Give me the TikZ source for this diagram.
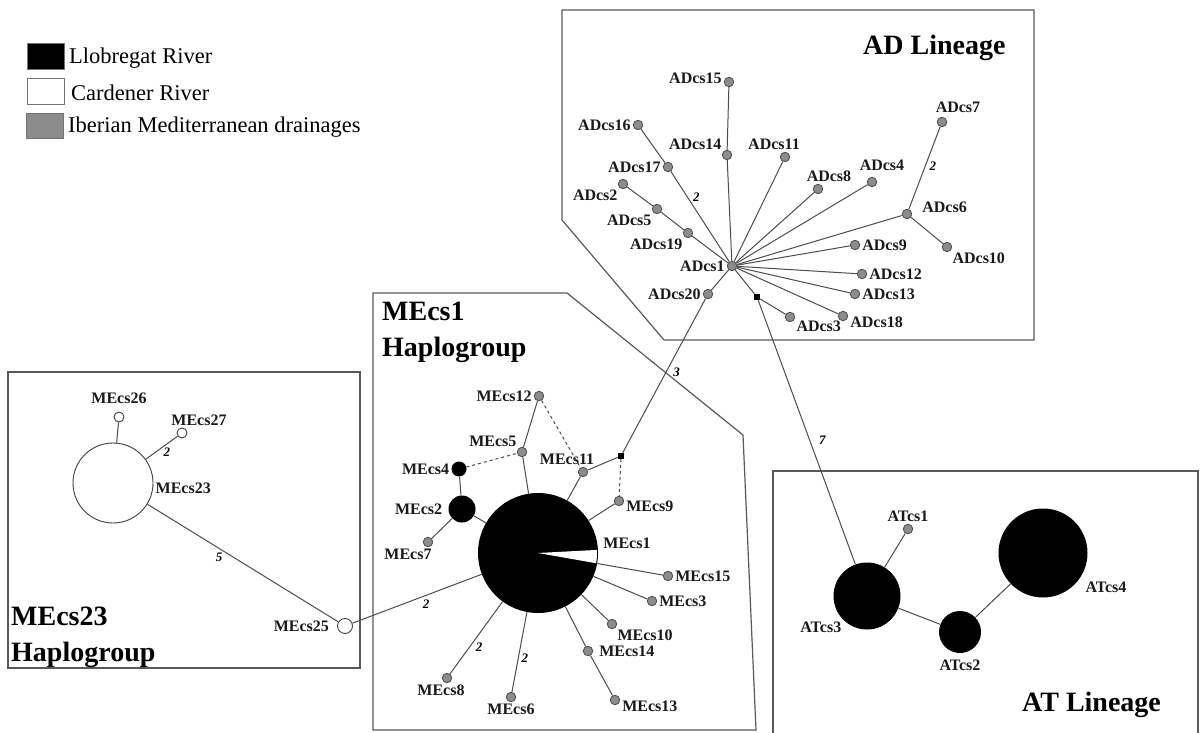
\documentclass[tikz,border=0pt]{standalone}
\usepackage{fontspec}
\setmainfont{Liberation Serif}
\tikzset{
    hapgray/.style={circle, draw=black!70, fill=black!45, line width=0.8pt, inner sep=0pt, minimum size=9.5pt},
    hapblack/.style={circle, fill=black, inner sep=0pt},
    hapwhite/.style={circle, draw=black!75, fill=white, line width=0.9pt, inner sep=0pt},
    junction/.style={rectangle, fill=black, inner sep=0pt, minimum size=6pt},
    hlabel/.style={font=\bfseries\fontsize{16}{16}\selectfont, text=black!90, inner sep=1pt},
    mutations/.style={font=\bfseries\itshape\fontsize{13}{13}\selectfont, inner sep=1pt},
    grouptitle/.style={font=\bfseries\fontsize{28}{36}\selectfont, align=left, inner sep=0pt},
    legbox/.style={draw=black!55, line width=1pt, minimum width=37pt, minimum height=26pt, inner sep=0pt},
    legtext/.style={anchor=west, inner sep=0pt, font=\fontsize{22.5}{24}\selectfont},
    link/.style={draw=black!70, line width=1pt},
    boxline/.style={draw=black!65, line width=1.2pt},
    every label/.style={hlabel},
    label distance=1pt
}
\begin{document}
\begin{tikzpicture}[x=1pt, y=-1pt]
        % Canvas
        \useasboundingbox (0,0) rectangle (1200,733);

        % Group frames
        \draw[boxline] (562,10) -- (1034,10) -- (1034,340) -- (664,340) -- (562,220) -- cycle;
        \draw[boxline] (373,293) -- (567,293) -- (743,435) -- (756,730) -- (373,730) -- cycle;
        \draw[boxline] (8,372) rectangle (360,668);
        \draw[boxline] (773,745) -- (773,471) -- (1198,471) -- (1198,745);

        % Titles
        \node[grouptitle, anchor=west] (adtitle) at (863,48) {AD Lineage};
        \node[grouptitle, anchor=west] (attitle) at (1022,705) {AT Lineage};
        \node[grouptitle, anchor=north west] (metitle) at (382,302) {MEcs1\\Haplogroup};
        \node[grouptitle, anchor=north west] (mbtitle) at (11,607) {MEcs23\\Haplogroup};

        % Legend
        \node[legbox, fill=black] (llob) at (46,57) {};
        \node[legtext] (llobtext) at (69,58) {Llobregat River};
        \node[legbox, fill=white] (card) at (46,92) {};
        \node[legtext] (cardtext) at (71,93) {Cardener River};
        \node[legbox, fill=black!45, minimum height=25pt] (iber) at (45,126) {};
        \node[legtext] (ibertext) at (68,127) {Iberian Mediterranean drainages};

        % AD lineage
        \node[hapgray, label=left:ADcs1] (ADcs1) at (732,266) {};
        \node[hapgray, label={[yshift=4pt]left:ADcs15}] (ADcs15) at (729,82) {};
        \node[hapgray, label=above left:ADcs14] (ADcs14) at (727,155) {};
        \node[hapgray, label=left:ADcs16] (ADcs16) at (638,125) {};
        \node[hapgray, label=left:ADcs17] (ADcs17) at (668,167) {};
        \node[hapgray, label=below left:ADcs2] (ADcs2) at (623,184) {};
        \node[hapgray, label=below left:ADcs5] (ADcs5) at (657,209) {};
        \node[hapgray, label=below left:ADcs19] (ADcs19) at (688,233) {};
        \node[hapgray, label={[xshift=-11pt]above:ADcs11}] (ADcs11) at (785,157) {};
        \node[hapgray, label={[xshift=11pt]above:ADcs8}] (ADcs8) at (818,189) {};
        \node[hapgray, label={[xshift=10pt,yshift=4pt]above:ADcs4}] (ADcs4) at (872,182) {};
        \node[hapgray, label={[xshift=16pt,yshift=2pt]above:ADcs7}] (ADcs7) at (942,122) {};
        \node[hapgray, label={[xshift=8pt,yshift=7pt]right:ADcs6}] (ADcs6) at (907,214) {};
        \node[hapgray, label=below right:ADcs10] (ADcs10) at (947,247) {};
        \node[hapgray, label=right:ADcs9] (ADcs9) at (855,245) {};
        \node[hapgray, label=right:ADcs12] (ADcs12) at (862,274) {};
        \node[hapgray, label=right:ADcs13] (ADcs13) at (855,294) {};
        \node[hapgray, label={[yshift=-6pt]right:ADcs18}] (ADcs18) at (843,316) {};
        \node[hapgray, label=-30:ADcs3] (ADcs3) at (790,317) {};
        \node[hapgray, label=left:ADcs20] (ADcs20) at (708,294) {};
        \node[junction] (J2) at (757,297) {};

        % MEcs1 haplogroup
        \node[hapblack, minimum size=120pt, label={[xshift=3pt,yshift=10pt]right:MEcs1}] (MEcs1) at (538,553) {};
        \fill[white] (MEcs1.center) -- ++(-3:59) arc[start angle=-3, end angle=10, radius=59] -- cycle;
        \node[hapgray, label=left:MEcs12] (MEcs12) at (539,396) {};
        \node[hapgray, label=above left:MEcs5] (MEcs5) at (522,452) {};
        \node[hapblack, minimum size=15pt, label=left:MEcs4] (MEcs4) at (459,469) {};
        \node[hapgray, label={[xshift=-16pt]above:MEcs11}] (MEcs11) at (583,472) {};
        \node[junction] (J1) at (621,456) {};
        \node[hapgray, label={[yshift=-5pt]right:MEcs9}] (MEcs9) at (619,501) {};
        \node[hapblack, minimum size=27pt, label={[xshift=-4pt]left:MEcs2}] (MEcs2) at (462,509) {};
        \node[hapgray, label={[xshift=-20pt]below:MEcs7}] (MEcs7) at (428,542) {};
        \node[hapgray, label=right:MEcs15] (MEcs15) at (668,576) {};
        \node[hapgray, label=right:MEcs3] (MEcs3) at (652,601) {};
        \node[hapgray, label=below right:MEcs10] (MEcs10) at (612,624) {};
        \node[hapgray, label={[xshift=4pt]right:MEcs14}] (MEcs14) at (588,651) {};
        \node[hapgray, label={[yshift=-6pt]right:MEcs13}] (MEcs13) at (615,700) {};
        \node[hapgray, label=below:MEcs6] (MEcs6) at (511,697) {};
        \node[hapgray, label={[xshift=-6pt]below:MEcs8}] (MEcs8) at (447,678) {};

        % MEcs23 haplogroup
        \node[hapwhite, minimum size=80pt, label={[yshift=-5pt]right:MEcs23}] (MEcs23) at (113,483) {};
        \node[hapwhite, minimum size=10pt, label={[yshift=6pt]above:MEcs26}] (MEcs26) at (119,417) {};
        \node[hapwhite, minimum size=10pt, label={[xshift=17pt]above:MEcs27}] (MEcs27) at (182,433) {};
        \node[hapwhite, minimum size=15pt, label={[xshift=-6pt]left:MEcs25}] (MEcs25) at (345,626) {};

        % AT lineage
        \node[hapblack, minimum size=67pt, label=below left:ATcs3] (ATcs3) at (867,596) {};
        \node[hapgray, label=above:ATcs1] (ATcs1) at (908,529) {};
        \node[hapblack, minimum size=42pt, label={[yshift=-5pt]below:ATcs2}] (ATcs2) at (960,632) {};
        \node[hapblack, minimum size=89pt, label={[xshift=9pt,yshift=5pt]below right:ATcs4}] (ATcs4) at (1043,553) {};

        % Drawing
        \draw[link] (ADcs1) -- (ADcs14);
        \draw[link] (ADcs14) -- (ADcs15);
        \draw[link] (ADcs17) -- node[mutations, pos=.29, right=4pt] {2} (ADcs1);
        \draw[link] (ADcs16) -- (ADcs17);
        \draw[link] (ADcs1) -- (ADcs19);
        \draw[link] (ADcs19) -- (ADcs5);
        \draw[link] (ADcs5) -- (ADcs2);
        \draw[link] (ADcs1) -- (ADcs11);
        \draw[link] (ADcs1) -- (ADcs8);
        \draw[link] (ADcs1) -- (ADcs4);
        \draw[link] (ADcs1) -- (ADcs6);
        \draw[link] (ADcs6) -- node[mutations, pos=.52, right=3pt] {2} (ADcs7);
        \draw[link] (ADcs6) -- (ADcs10);
        \draw[link] (ADcs1) -- (ADcs9);
        \draw[link] (ADcs1) -- (ADcs12);
        \draw[link] (ADcs1) -- (ADcs13);
        \draw[link] (ADcs1) -- (ADcs18);
        \draw[link] (ADcs1) -- (ADcs20);
        \draw[link] (ADcs1) -- (J2);
        \draw[link] (J2) -- (ADcs3);
        \draw[link] (J2) -- node[mutations, pos=.53, right=8pt] {7} (ATcs3);
        \draw[link] (ADcs20) -- node[mutations, pos=.48, right=6pt] {3} (J1);

        \draw[link] (MEcs1) -- (MEcs5);
        \draw[link] (MEcs5) -- (MEcs12);
        \draw[link, dashed] (MEcs12) -- (MEcs11);
        \draw[link, dashed] (MEcs4) -- (MEcs5);
        \draw[link] (MEcs4) -- (MEcs2);
        \draw[link] (MEcs2) -- (MEcs1);
        \draw[link] (MEcs2) -- (MEcs7);
        \draw[link] (MEcs1) -- (MEcs11);
        \draw[link] (MEcs11) -- (J1);
        \draw[link, dashed] (J1) -- (MEcs9);
        \draw[link] (MEcs1) -- (MEcs9);
        \draw[link] (MEcs1) -- (MEcs15);
        \draw[link] (MEcs1) -- (MEcs3);
        \draw[link] (MEcs1) -- (MEcs10);
        \draw[link] (MEcs1) -- (MEcs14);
        \draw[link] (MEcs14) -- (MEcs13);
        \draw[link] (MEcs1) -- node[mutations, pos=.58, right=2pt] {2} (MEcs6);
        \draw[link] (MEcs1) -- node[mutations, pos=.63, right=5pt] {2} (MEcs8);
        \draw[link] (MEcs1) -- node[mutations, pos=.43, below=3pt] {2} (MEcs25);

        \draw[link] (MEcs23) -- node[mutations, pos=.4, below left=0pt] {5} (MEcs25);
        \draw[link] (MEcs23) -- (MEcs26);
        \draw[link] (MEcs23) -- node[mutations, pos=.66, below=2pt] {2} (MEcs27);

        \draw[link] (ATcs3) -- (ATcs1);
        \draw[link] (ATcs3) -- (ATcs2);
        \draw[link] (ATcs2) -- (ATcs4);
    \end{tikzpicture}
\end{document}
